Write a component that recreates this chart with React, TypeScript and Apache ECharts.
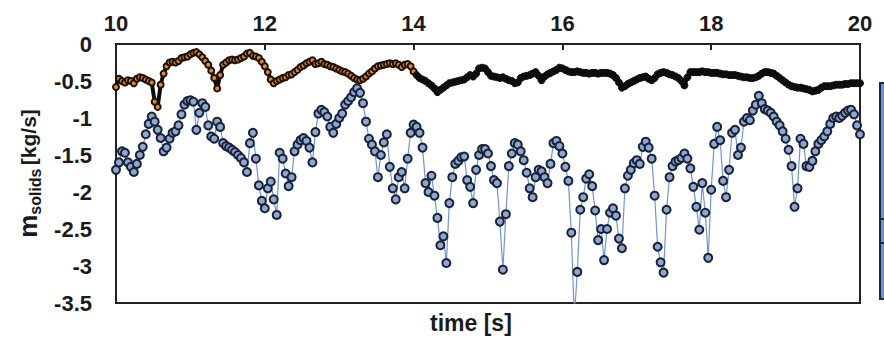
import React, { useEffect, useRef } from "react";
import * as echarts from "echarts";

// time axis: samples every 0.04 s from 10 s to 20 s
const T0 = 10;
const DT = 0.04;

// upper series (orange-marked, then black) – m_solids [kg/s]
const upperValues = [
  -0.58, -0.47, -0.5, -0.52, -0.49, -0.5, -0.53, -0.47, -0.45, -0.46,
  -0.48, -0.5, -0.52, -0.78, -0.85, -0.55, -0.4, -0.3, -0.25, -0.24,
  -0.25, -0.23, -0.19, -0.18, -0.17, -0.14, -0.12, -0.11, -0.14, -0.18,
  -0.23, -0.28, -0.36, -0.46, -0.6, -0.42, -0.28, -0.25, -0.22, -0.21,
  -0.22, -0.21, -0.19, -0.17, -0.13, -0.12, -0.16, -0.17, -0.19, -0.24,
  -0.3, -0.38, -0.48, -0.53, -0.5, -0.48, -0.46, -0.45, -0.42, -0.41,
  -0.38, -0.35, -0.31, -0.29, -0.26, -0.24, -0.22, -0.27, -0.26, -0.24,
  -0.27, -0.28, -0.3, -0.31, -0.33, -0.35, -0.37, -0.38, -0.4, -0.43,
  -0.46, -0.48, -0.49, -0.47, -0.44, -0.4, -0.37, -0.33, -0.3, -0.29,
  -0.28, -0.27, -0.26, -0.27, -0.26, -0.28, -0.31, -0.28, -0.27, -0.3,
  -0.37, -0.42, -0.46, -0.48, -0.5, -0.53, -0.56, -0.6, -0.65, -0.62,
  -0.59, -0.56, -0.53, -0.52, -0.51, -0.5, -0.49, -0.48, -0.45, -0.42,
  -0.44, -0.4, -0.33, -0.32, -0.33, -0.38, -0.43, -0.44, -0.45, -0.46,
  -0.45, -0.47, -0.49, -0.5, -0.53, -0.52, -0.46, -0.44, -0.43, -0.42,
  -0.4, -0.38, -0.43, -0.49, -0.44, -0.41, -0.39, -0.37, -0.35, -0.32,
  -0.33, -0.35, -0.37, -0.38, -0.38, -0.37, -0.38, -0.39, -0.39, -0.4,
  -0.39, -0.39, -0.4, -0.39, -0.39, -0.39, -0.4, -0.42, -0.46, -0.52,
  -0.59, -0.57, -0.54, -0.52, -0.5, -0.48, -0.46, -0.45, -0.44, -0.47,
  -0.49, -0.46, -0.41, -0.39, -0.38, -0.39, -0.41, -0.42, -0.44, -0.46,
  -0.5, -0.56, -0.45, -0.38, -0.38, -0.38, -0.38, -0.37, -0.38, -0.38,
  -0.39, -0.39, -0.39, -0.4, -0.41, -0.41, -0.42, -0.42, -0.42, -0.43,
  -0.44, -0.45, -0.45, -0.46, -0.46, -0.45, -0.43, -0.4, -0.38, -0.38,
  -0.39, -0.4, -0.43, -0.46, -0.49, -0.52, -0.55, -0.57, -0.58, -0.59,
  -0.59, -0.6, -0.61, -0.62, -0.64, -0.63, -0.62, -0.59, -0.57, -0.57,
  -0.57, -0.56, -0.55, -0.55, -0.55, -0.54, -0.54, -0.53, -0.53, -0.53,
  -0.53,
];

// lower series (blue markers) – m_solids [kg/s]
const lowerValues = [
  -1.7, -1.6, -1.45, -1.47, -1.6, -1.66, -1.73, -1.62, -1.5, -1.39,
  -1.22, -1.08, -0.98, -1.05, -1.16, -1.27, -1.45, -1.4, -1.28, -1.2,
  -1.18, -1.1, -0.95, -0.82, -0.77, -0.76, -0.78, -1.16, -0.93, -0.8,
  -0.85, -1.1, -1.25, -1.28, -1.05, -1.12, -1.34, -1.38, -1.4, -1.43,
  -1.46, -1.5, -1.54, -1.6, -1.73, -1.34, -1.2, -1.55, -1.91, -2.12,
  -2.22, -1.95, -1.86, -2.1, -2.31, -1.47, -1.55, -1.75, -1.92, -1.8,
  -1.45, -1.36, -1.3, -1.27, -1.31, -1.4, -1.6, -1.19, -0.94, -0.89,
  -0.92, -0.98, -1.12, -1.2, -1.08, -1.0, -0.94, -0.82, -0.77, -0.72,
  -0.65, -0.6, -0.66, -0.8, -1.05, -1.28, -1.36, -1.45, -1.8, -1.5,
  -1.33, -1.22, -1.66, -1.95, -2.1, -1.8, -1.73, -1.95, -1.55, -1.2,
  -1.09, -1.12, -1.2, -1.4, -1.88, -2.0, -1.78, -2.05, -2.35, -2.72,
  -2.6, -2.96, -2.15, -1.8, -1.62, -1.58, -1.53, -1.52, -1.84, -1.93,
  -2.15, -1.7, -1.5, -1.42, -1.42, -1.48, -1.65, -1.84, -1.88, -2.4,
  -3.05, -2.3, -1.65, -1.48, -1.34, -1.36, -1.45, -1.57, -1.74, -1.95,
  -2.07, -1.8, -1.7, -1.72, -1.8, -1.88, -1.62, -1.34, -1.31, -1.38,
  -1.48, -1.66, -1.85, -2.55, -3.7, -3.08, -2.24, -2.07, -1.82, -1.76,
  -1.92, -2.25, -2.65, -2.5, -2.92, -2.5, -2.28, -2.22, -2.32, -2.63,
  -2.76, -1.95, -1.78, -1.7, -1.61, -1.57, -1.62, -1.39, -1.32, -1.4,
  -1.55, -2.05, -2.74, -2.95, -3.09, -2.24, -1.8, -1.65, -1.59, -1.57,
  -1.54, -1.48, -1.55, -1.68, -1.93, -2.2, -2.51, -1.88, -2.28, -2.89,
  -1.97, -1.35, -1.12, -1.3, -1.85, -2.07, -1.7, -1.2, -1.16, -1.5,
  -1.4, -1.05, -1.0, -1.03, -0.9, -0.82, -0.7, -0.8, -0.88, -0.9,
  -0.93, -0.98, -1.05, -1.1, -1.18, -1.28, -1.43, -1.65, -2.2, -1.95,
  -1.28, -1.35, -1.65, -1.66, -1.58, -1.45, -1.35, -1.3, -1.25, -1.18,
  -1.08, -1.0, -0.98, -1.0, -0.97, -0.93, -0.9, -0.89, -0.95, -1.1,
  -1.22,
];

const xMin = 10;
const xMax = 20;
const xStep = 2;
const yMin = -3.5;
const yMax = 0;
const yStep = 0.5;
const orangeUntil = 14;

const FONT = "'Liberation Sans', Arial, sans-serif";

export default function App() {
  const ref = useRef<HTMLDivElement>(null);

  useEffect(() => {
    if (!ref.current) return;
    const chart = echarts.init(ref.current, null, { renderer: "svg" });

    const tAt = (i: number) => +(T0 + i * DT).toFixed(2);

    const upperData = upperValues.map((v, i) => {
      const t = tAt(i);
      const orange = t <= orangeUntil;
      return {
        value: [t, v],
        symbolSize: orange ? 6 : 7,
        itemStyle: {
          color: orange ? "#e08a30" : "#0d0d0d",
          borderColor: orange ? "#1e1206" : "#0d0d0d",
          borderWidth: orange ? 2 : 1,
        },
      };
    });
    const lowerData = lowerValues.map((v, i) => [tAt(i), v]);

    chart.setOption({
      animation: false,
      backgroundColor: "#fff",
      grid: {
        left: 116,
        right: 24,
        top: 44,
        bottom: 44,
        show: true,
        borderColor: "#222",
        borderWidth: 2,
        backgroundColor: "transparent",
      },
      xAxis: {
        type: "value",
        position: "top",
        min: xMin,
        max: xMax,
        interval: xStep,
        axisLine: { show: true, lineStyle: { color: "#222", width: 2 } },
        axisTick: { show: true, inside: true, length: 6, lineStyle: { color: "#222", width: 2 } },
        splitLine: { show: false },
        axisLabel: {
          color: "#1a1a1a",
          fontFamily: FONT,
          fontWeight: "bold",
          fontSize: 22,
          margin: 10,
        },
      },
      yAxis: {
        type: "value",
        min: yMin,
        max: yMax,
        interval: yStep,
        axisLine: { show: true, lineStyle: { color: "#222", width: 2 } },
        axisTick: { show: false },
        splitLine: { show: false },
        axisLabel: {
          color: "#1a1a1a",
          fontFamily: FONT,
          fontWeight: "bold",
          fontSize: 22,
          margin: 24,
        },
        name: "{m|m}{s|solids} {u|[kg/s]}",
        nameLocation: "middle",
        nameRotate: 90,
        nameGap: 70,
        nameTextStyle: {
          rich: {
            m: { fontFamily: FONT, fontWeight: "bold", fontSize: 26, color: "#1a1a1a", lineHeight: 30, verticalAlign: "middle" },
            s: { fontFamily: FONT, fontWeight: "bold", fontSize: 16, color: "#1a1a1a", lineHeight: 30, verticalAlign: "bottom" },
            u: { fontFamily: FONT, fontWeight: "bold", fontSize: 21, color: "#1a1a1a", lineHeight: 30, verticalAlign: "middle" },
          },
        },
      },
      graphic: [
        {
          type: "text",
          left: 430,
          top: 311,
          style: {
            text: "time [s]",
            fontFamily: FONT,
            fontWeight: "bold",
            fontSize: 23,
            fill: "#1a1a1a",
          },
        },
        {
          type: "rect",
          shape: { x: 880, y: 83, width: 20, height: 216 },
          style: { fill: "#6d93cf", stroke: "#1d2a44", lineWidth: 2 },
        },
        {
          type: "line",
          shape: { x1: 880, y1: 219, x2: 900, y2: 219 },
          style: { stroke: "#1d2a44", lineWidth: 2 },
        },
        {
          type: "line",
          shape: { x1: 880, y1: 243, x2: 900, y2: 243 },
          style: { stroke: "#1d2a44", lineWidth: 2 },
        },
      ],
      series: [
        {
          type: "line",
          name: "lower",
          data: lowerData,
          showAllSymbol: true,
          symbol: "circle",
          symbolSize: 8,
          lineStyle: { color: "#6f95d6", width: 1.2 },
          itemStyle: { color: "#8ea8cd", borderColor: "#18213a", borderWidth: 2 },
          z: 2,
        },
        {
          type: "line",
          name: "upper",
          data: upperData,
          showAllSymbol: true,
          symbol: "circle",
          lineStyle: { color: "#0d0a06", width: 4 },
          z: 3,
        },
      ],
    });

    return () => chart.dispose();
  }, []);

  return (
    <div
      ref={ref}
      style={{ position: "fixed", left: 0, top: 0, width: 884, height: 347, background: "#fff" }}
    />
  );
}
